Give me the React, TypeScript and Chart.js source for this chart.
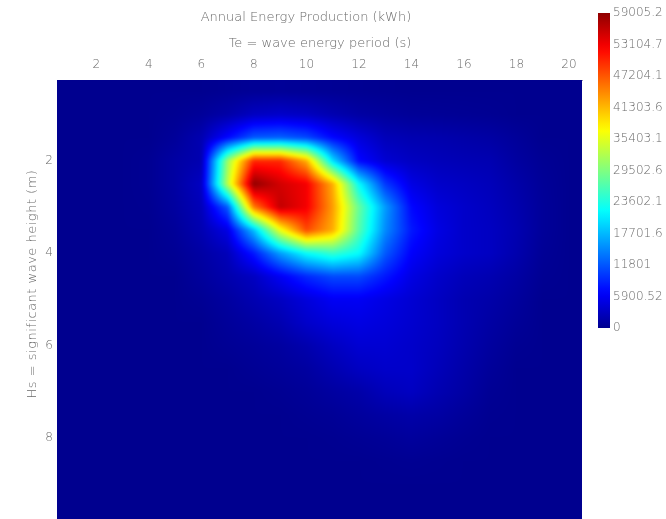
import React, { useEffect, useRef } from 'react';
import { Chart, registerables } from 'chart.js';

Chart.register(...registerables);

const TITLE = 'Annual Energy Production (kWh)';
const X_TITLE = 'Te = wave energy period (s)';
const Y_TITLE = 'Hs = significant wave height (m)';

// Te (s) column centres and Hs (m) row centres
const TE_PERIODS = [1, 2, 3, 4, 5, 6, 7, 8, 9, 10, 11, 12, 13, 14, 15, 16, 17, 18, 19, 20];
const HS_HEIGHTS = [0.5, 1, 1.5, 2, 2.5, 3, 3.5, 4, 4.5, 5, 5.5, 6, 6.5, 7, 7.5, 8, 8.5, 9, 9.5];

// Annual energy (kWh), one row per Hs, columns follow TE_PERIODS
const HS_0_5 = [0, 0, 0, 0, 0, 0, 200, 400, 500, 400, 300, 200, 100, 0, 0, 0, 0, 0, 0, 0];
const HS_1_0 = [0, 0, 0, 0, 200, 600, 1500, 3000, 3500, 3000, 2000, 1200, 800, 500, 400, 300, 200, 0, 0, 0];
const HS_1_5 = [0, 0, 0, 0, 600, 2000, 7000, 12000, 12500, 11000, 7000, 4500, 2500, 2000, 1800, 1500, 1200, 600, 0, 0];
const HS_2_0 = [0, 0, 0, 200, 1200, 2000, 31000, 50000, 50000, 42000, 20000, 7000, 4000, 3000, 2500, 2200, 2000, 1000, 300, 0];
const HS_2_5 = [0, 0, 0, 200, 1200, 3000, 33000, 59005, 55000, 53000, 42000, 22000, 10000, 5000, 3500, 3000, 2500, 1500, 500, 0];
const HS_3_0 = [0, 0, 0, 100, 1000, 2500, 12000, 45000, 56000, 53000, 43000, 28000, 16000, 7000, 4500, 3500, 2800, 1800, 600, 0];
const HS_3_5 = [0, 0, 0, 0, 600, 2000, 5000, 18000, 36000, 48000, 42000, 27000, 15000, 8000, 5000, 3500, 3000, 2000, 600, 0];
const HS_4_0 = [0, 0, 0, 0, 300, 1200, 2500, 8000, 16000, 22000, 25000, 22000, 12000, 6500, 4500, 3500, 3000, 1800, 400, 0];
const HS_4_5 = [0, 0, 0, 0, 0, 800, 1800, 3000, 6000, 9000, 11000, 11000, 8000, 5000, 3500, 2500, 2000, 1200, 200, 0];
const HS_5_0 = [0, 0, 0, 0, 0, 300, 1000, 2000, 3000, 4500, 6000, 6000, 5000, 4000, 3000, 2000, 1500, 800, 0, 0];
const HS_5_5 = [0, 0, 0, 0, 0, 0, 600, 1200, 2000, 3500, 4500, 5000, 4500, 3800, 3000, 2000, 1200, 500, 0, 0];
const HS_6_0 = [0, 0, 0, 0, 0, 0, 300, 600, 1000, 1800, 3000, 4000, 4000, 3500, 2800, 1800, 900, 200, 0, 0];
const HS_6_5 = [0, 0, 0, 0, 0, 0, 0, 300, 600, 1000, 2000, 3000, 3500, 3500, 2500, 1500, 600, 0, 0, 0];
const HS_7_0 = [0, 0, 0, 0, 0, 0, 0, 0, 200, 500, 1000, 1500, 2500, 3000, 2000, 1200, 300, 0, 0, 0];
const HS_7_5 = [0, 0, 0, 0, 0, 0, 0, 0, 0, 200, 400, 800, 1200, 1500, 1200, 600, 100, 0, 0, 0];
const HS_8_0 = [0, 0, 0, 0, 0, 0, 0, 0, 0, 0, 100, 300, 500, 800, 500, 200, 0, 0, 0, 0];
const HS_8_5 = [0, 0, 0, 0, 0, 0, 0, 0, 0, 0, 0, 0, 100, 200, 100, 0, 0, 0, 0, 0];
const HS_9_0 = [0, 0, 0, 0, 0, 0, 0, 0, 0, 0, 0, 0, 0, 0, 0, 0, 0, 0, 0, 0];
const HS_9_5 = [0, 0, 0, 0, 0, 0, 0, 0, 0, 0, 0, 0, 0, 0, 0, 0, 0, 0, 0, 0];

const ENERGY_GRID = [
  HS_0_5, HS_1_0, HS_1_5, HS_2_0, HS_2_5, HS_3_0, HS_3_5, HS_4_0, HS_4_5, HS_5_0,
  HS_5_5, HS_6_0, HS_6_5, HS_7_0, HS_7_5, HS_8_0, HS_8_5, HS_9_0, HS_9_5,
];

const X_TICKS = [2, 4, 6, 8, 10, 12, 14, 16, 18, 20];
const Y_TICKS = [2, 4, 6, 8];
const COLORBAR_TICKS = [0, 5900.52, 11801, 17701.6, 23602.1, 29502.6, 35403.1, 41303.6, 47204.1, 53104.7, 59005.2];
const COLORBAR_MAX = 59005.2;

const FONT = '"DejaVu Sans", sans-serif';
const TEXT_COLOR = '#6a6a6a';

function clamp01(v: number) {
  return v < 0 ? 0 : v > 1 ? 1 : v;
}

function jet(t: number): [number, number, number] {
  const u = clamp01(t) * (1 - 1 / 32) + 1 / 64;
  const r = clamp01(1.5 - Math.abs(4 * u - 3));
  const g = clamp01(1.5 - Math.abs(4 * u - 2));
  const b = clamp01(1.5 - Math.abs(4 * u - 1));
  return [Math.round(r * 255), Math.round(g * 255), Math.round(b * 255)];
}

function locate(arr: number[], v: number) {
  const n = arr.length - 1;
  if (v <= arr[0]) return 0;
  if (v >= arr[n]) return n;
  for (let i = 0; i < n; i++) {
    if (v <= arr[i + 1]) return i + (v - arr[i]) / (arr[i + 1] - arr[i]);
  }
  return n;
}

function sample(fx: number, fy: number) {
  const i0 = Math.floor(fy);
  const j0 = Math.floor(fx);
  const i1 = Math.min(i0 + 1, HS_HEIGHTS.length - 1);
  const j1 = Math.min(j0 + 1, TE_PERIODS.length - 1);
  const ty = fy - i0;
  const tx = fx - j0;
  const g = ENERGY_GRID;
  const a = g[i0][j0] * (1 - tx) + g[i0][j1] * tx;
  const b = g[i1][j0] * (1 - tx) + g[i1][j1] * tx;
  return a * (1 - ty) + b * ty;
}

const heatmapPlugin = {
  id: 'heatmap',
  beforeDatasetsDraw(chart: any) {
    const { ctx, chartArea, scales } = chart;
    const xs = scales.x;
    const ys = scales.y;
    const M = 8;
    const left = Math.floor(chartArea.left);
    const top = Math.floor(chartArea.top);
    const w = Math.ceil(chartArea.right - left);
    const h = Math.ceil(chartArea.bottom - top);
    const W = w + 2 * M;
    const H = h + 2 * M;
    const off = document.createElement('canvas');
    off.width = W;
    off.height = H;
    const octx = off.getContext('2d')!;
    const img = octx.createImageData(W, H);
    const fxs = new Float32Array(W);
    for (let px = 0; px < W; px++) {
      fxs[px] = locate(TE_PERIODS, xs.getValueForPixel(left - M + px + 0.5));
    }
    for (let py = 0; py < H; py++) {
      const fy = locate(HS_HEIGHTS, ys.getValueForPixel(top - M + py + 0.5));
      for (let px = 0; px < W; px++) {
        const v = sample(fxs[px], fy);
        const [r, g, b] = jet(v / COLORBAR_MAX);
        const k = (py * W + px) * 4;
        img.data[k] = r;
        img.data[k + 1] = g;
        img.data[k + 2] = b;
        img.data[k + 3] = 255;
      }
    }
    octx.putImageData(img, 0, 0);
    ctx.save();
    ctx.beginPath();
    ctx.rect(chartArea.left, chartArea.top, chartArea.right - chartArea.left, chartArea.bottom - chartArea.top);
    ctx.clip();
    ctx.filter = 'blur(1.6px)';
    ctx.drawImage(off, left - M, top - M);
    ctx.restore();
  },
};

const decorPlugin = {
  id: 'decor',
  afterDraw(chart: any) {
    const { ctx, chartArea } = chart;
    ctx.save();
    // titles
    ctx.fillStyle = TEXT_COLOR;
    ctx.font = `200 13px ${FONT}`;
    ctx.textAlign = 'center';
    ctx.textBaseline = 'middle';
    ctx.fillText(TITLE, 306, 18);
    ctx.fillText(X_TITLE, 320, 44);
    // colour bar
    const x0 = chartArea.right + 16;
    const cw = 12;
    const yTop = 13;
    const yBot = 328;
    const grad = ctx.createLinearGradient(0, yBot, 0, yTop);
    for (let i = 0; i <= 40; i++) {
      const [r, g, b] = jet(i / 40);
      grad.addColorStop(i / 40, `rgb(${r},${g},${b})`);
    }
    ctx.fillStyle = grad;
    ctx.fillRect(x0, yTop, cw, yBot - yTop);
    ctx.fillStyle = TEXT_COLOR;
    ctx.font = `200 12px ${FONT}`;
    ctx.textAlign = 'left';
    COLORBAR_TICKS.forEach((v) => {
      const y = yBot - (v / COLORBAR_MAX) * (yBot - yTop);
      ctx.fillText(String(v), x0 + cw + 3, y);
    });
    // y axis title
    ctx.font = `200 13px ${FONT}`;
    ctx.textAlign = 'center';
    try {
      (ctx as any).letterSpacing = '0.5px';
    } catch (e) {
      /* ignore */
    }
    ctx.translate(33, 284);
    ctx.rotate(-Math.PI / 2);
    ctx.fillText(Y_TITLE, 0, 0);
    ctx.restore();
  },
};

export default function App() {
  const ref = useRef<HTMLCanvasElement>(null);
  useEffect(() => {
    if (!ref.current) return;
    const points: { x: number; y: number }[] = [];
    HS_HEIGHTS.forEach((hs) => TE_PERIODS.forEach((te) => points.push({ x: te, y: hs })));
    const chart = new Chart(ref.current, {
      type: 'scatter',
      data: {
        datasets: [{ data: points, pointRadius: 0, pointHoverRadius: 0, showLine: false }],
      },
      options: {
        animation: false,
        responsive: false,
        events: [],
        layout: { padding: { left: 0, top: 0, right: 84, bottom: 0 } },
        plugins: { legend: { display: false }, tooltip: { enabled: false } },
        scales: {
          x: {
            type: 'linear',
            position: 'top',
            min: 0.5,
            max: 20.5,
            afterBuildTicks: (s: any) => {
              s.ticks = X_TICKS.map((v) => ({ value: v }));
            },
            afterFit: (s: any) => {
              s.height = 80;
              s.paddingLeft = 0;
              s.paddingRight = 0;
            },
            grid: { display: false, drawTicks: false },
            border: { display: true, color: '#9a9aa6', width: 1 },
            ticks: { padding: 8, color: TEXT_COLOR, font: { family: FONT, size: 12, weight: '200' } },
          },
          y: {
            type: 'linear',
            position: 'left',
            reverse: true,
            min: 0.25,
            max: 9.75,
            afterBuildTicks: (s: any) => {
              s.ticks = Y_TICKS.map((v) => ({ value: v }));
            },
            afterFit: (s: any) => {
              s.width = 57;
              s.paddingTop = 0;
              s.paddingBottom = 0;
            },
            grid: { display: false, drawTicks: false },
            border: { display: false },
            ticks: { padding: 4, color: TEXT_COLOR, font: { family: FONT, size: 12, weight: '200' } },
          },
        },
      },
      plugins: [heatmapPlugin, decorPlugin],
    } as any);
    return () => chart.destroy();
  }, []);
  return (
    <div style={{ position: 'absolute', left: 0, top: 0, width: 666, height: 519, background: '#fff' }}>
      <canvas ref={ref} width={666} height={519} style={{ display: 'block' }} />
    </div>
  );
}
